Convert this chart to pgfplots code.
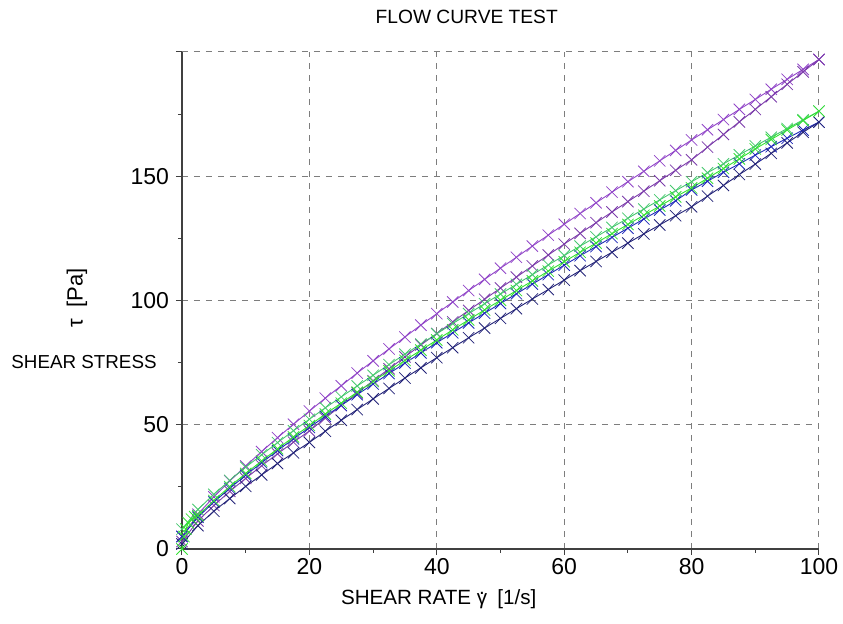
\documentclass[border=0pt]{standalone}
\usepackage{pgfplots}
\pgfplotsset{compat=1.18}
\usepackage{fontspec}
\setmainfont{Liberation Sans}
\definecolor{cpurple}{RGB}{145,70,200}
\definecolor{cgreen}{RGB}{50,225,50}
\definecolor{cgreenb}{RGB}{70,200,110}
\definecolor{cblue}{RGB}{30,40,185}
\definecolor{cnavy}{RGB}{35,35,120}
\definecolor{cgrid}{RGB}{125,125,125}
\newcommand\gdot{{\ooalign{γ\cr\hidewidth\raisebox{0.5em}{.}\hidewidth\cr}}}
\begin{document}
\begin{tikzpicture}
\begin{axis}[
  scale only axis,
  width=318.5pt, height=248.5pt,
  xmin=0, xmax=100, ymin=0, ymax=200,
  axis x line*=bottom, axis y line*=left,
  axis line style={black!75, line width=0.6pt},
  xtick={0,20,...,100}, ytick={0,50,100,150,200},
  yticklabels={0,50,100,150,{}},
  minor xtick={10,30,50,70,90}, minor ytick={25,75,125,175},
  tick align=outside, major tick length=3pt, minor tick length=2pt,
  tick style={black!75, line width=0.5pt},
  grid=major,
  major grid style={cgrid, dashed, line width=0.5pt},
  ticklabel style={font=\fontsize{11.5}{13}\selectfont},
  xticklabel style={yshift=2pt},
  /pgf/number format/assume math mode=true,
  clip=false,
  every axis plot/.append style={line width=0.45pt, mark=x, mark size=4pt,
    mark options={line width=0.4pt, solid}},
]
% purple, up curve
\addplot[cpurple] coordinates {
(0,5.0)(2.5,14.0)(5,21.0)(7.5,27.4)(10,33.4)(12.5,39.2)(15,44.8)(17.5,50.2)
(20,55.5)(22.5,60.7)(25,65.7)(27.5,70.8)(30,75.7)(32.5,80.5)(35,85.3)(37.5,90.1)
(40,94.7)(42.5,99.4)(45,104.0)(47.5,108.5)(50,113.0)(52.5,117.4)(55,121.9)(57.5,126.3)
(60,130.7)(62.5,135.0)(65,139.3)(67.5,143.6)(70,147.8)(72.5,152.0)(75,156.2)(77.5,160.4)
(80,164.6)(82.5,168.7)(85,172.8)(87.5,176.9)(90,180.9)(92.5,185.0)(95,189.0)(97.5,193.0)
(100,197.0)};
% purple, down curve
\addplot[cpurple!85!black] coordinates {
(0,3.0)(2.5,11.3)(5,17.5)(7.5,23.2)(10,28.4)(12.5,33.5)(15,38.3)(17.5,43.0)
(20,47.5)(22.5,52.7)(25,57.7)(27.5,62.8)(30,67.7)(32.5,72.5)(35,77.3)(37.5,82.1)
(40,86.7)(42.5,91.4)(45,96.0)(47.5,100.5)(50,105.0)(52.5,109.4)(55,113.9)(57.5,118.3)
(60,122.7)(62.5,127.0)(65,131.3)(67.5,135.6)(70,139.8)(72.5,144.0)(75,148.2)(77.5,152.4)
(80,156.6)(82.5,161.7)(85,166.8)(87.5,171.9)(90,176.9)(92.5,182.0)(95,187.0)(97.5,192.0)
(100,197.0)};
% blue, up curve
\addplot[cblue] coordinates {
(0,5.0)(2.5,12.8)(5,18.9)(7.5,24.4)(10,29.7)(12.5,34.7)(15,39.6)(17.5,44.3)
(20,48.9)(22.5,53.4)(25,57.8)(27.5,62.1)(30,66.4)(32.5,70.6)(35,74.8)(37.5,78.9)
(40,83.0)(42.5,87.0)(45,91.0)(47.5,94.9)(50,98.8)(52.5,102.7)(55,106.6)(57.5,110.4)
(60,114.2)(62.5,118.0)(65,121.7)(67.5,125.4)(70,129.1)(72.5,132.8)(75,136.4)(77.5,140.1)
(80,144.5)(82.5,148.0)(85,151.6)(87.5,155.0)(90,158.5)(92.5,161.9)(95,165.3)(97.5,168.6)
(100,171.8)};
% blue, down curve
\addplot[cnavy] coordinates {
(0,2.0)(2.5,9.4)(5,15.2)(7.5,20.3)(10,25.2)(12.5,29.8)(15,34.4)(17.5,38.7)
(20,42.9)(22.5,47.4)(25,51.8)(27.5,56.1)(30,60.4)(32.5,64.6)(35,68.8)(37.5,72.9)
(40,77.0)(42.5,81.0)(45,85.0)(47.5,88.9)(50,92.8)(52.5,96.7)(55,100.6)(57.5,104.4)
(60,108.2)(62.5,112.0)(65,115.7)(67.5,119.4)(70,123.1)(72.5,126.8)(75,130.4)(77.5,134.1)
(80,137.7)(82.5,142.0)(85,146.3)(87.5,150.7)(90,154.9)(92.5,159.2)(95,163.4)(97.5,167.7)
(100,171.8)};
% green, down curve
\addplot[cgreenb] coordinates {
(0,8.0)(2.5,15.9)(5,22.0)(7.5,27.6)(10,32.9)(12.5,37.9)(15,42.8)(17.5,47.6)
(20,52.2)(22.5,56.8)(25,61.2)(27.5,65.6)(30,69.9)(32.5,74.2)(35,78.4)(37.5,82.5)
(40,86.6)(42.5,90.7)(45,94.7)(47.5,98.7)(50,102.6)(52.5,106.5)(55,110.4)(57.5,114.3)
(60,118.1)(62.5,121.9)(65,125.6)(67.5,129.4)(70,133.1)(72.5,136.8)(75,140.5)(77.5,144.2)
(80,147.8)(82.5,151.4)(85,155.0)(87.5,158.6)(90,162.2)(92.5,165.7)(95,169.2)(97.5,172.7)
(100,176.2)};
% green, up curve
\addplot[cgreen] coordinates {
(0,0)(0.3,5.0)(0.6,8.0)(1,10.5)(1.5,12.0)(2,13.0)
(2.5,13.4)(5,19.5)(7.5,25.1)(10,30.4)(12.5,35.4)(15,40.3)(17.5,45.1)
(20,49.7)(22.5,54.3)(25,58.7)(27.5,63.1)(30,67.4)(32.5,71.7)(35,75.9)(37.5,80.0)
(40,84.1)(42.5,88.2)(45,92.2)(47.5,96.2)(50,100.1)(52.5,104.0)(55,107.9)(57.5,111.8)
(60,115.6)(62.5,119.4)(65,123.1)(67.5,126.9)(70,130.6)(72.5,134.3)(75,138.0)(77.5,141.7)
(80,145.3)(82.5,149.2)(85,153.1)(87.5,157.0)(90,161.0)(92.5,164.8)(95,168.6)(97.5,172.4)
(100,176.2)};
\node[font=\fontsize{9.6}{11}\selectfont] at ([yshift=17.5pt]rel axis cs:0.447,1) {FLOW CURVE TEST};
\node[font=\fontsize{10.3}{12}\selectfont] at ([yshift=-25pt]rel axis cs:0.403,0) {SHEAR RATE \gdot\enspace[1/s]};
\node[font=\fontsize{11}{13}\selectfont, rotate=90] at ([xshift=-52.5pt]rel axis cs:0,0.505) {τ\enspace [Pa]};
\node[font=\fontsize{9.4}{11}\selectfont] at ([xshift=-49pt]rel axis cs:0,0.376) {SHEAR STRESS};
\coordinate (bl) at (rel axis cs:0,0);
\coordinate (tr) at (rel axis cs:1,1);
\end{axis}
\pgfresetboundingbox
\path[use as bounding box] ([xshift=-91pt,yshift=-37.5pt]bl) rectangle ([xshift=12pt,yshift=26pt]tr);
\end{tikzpicture}
\end{document}
